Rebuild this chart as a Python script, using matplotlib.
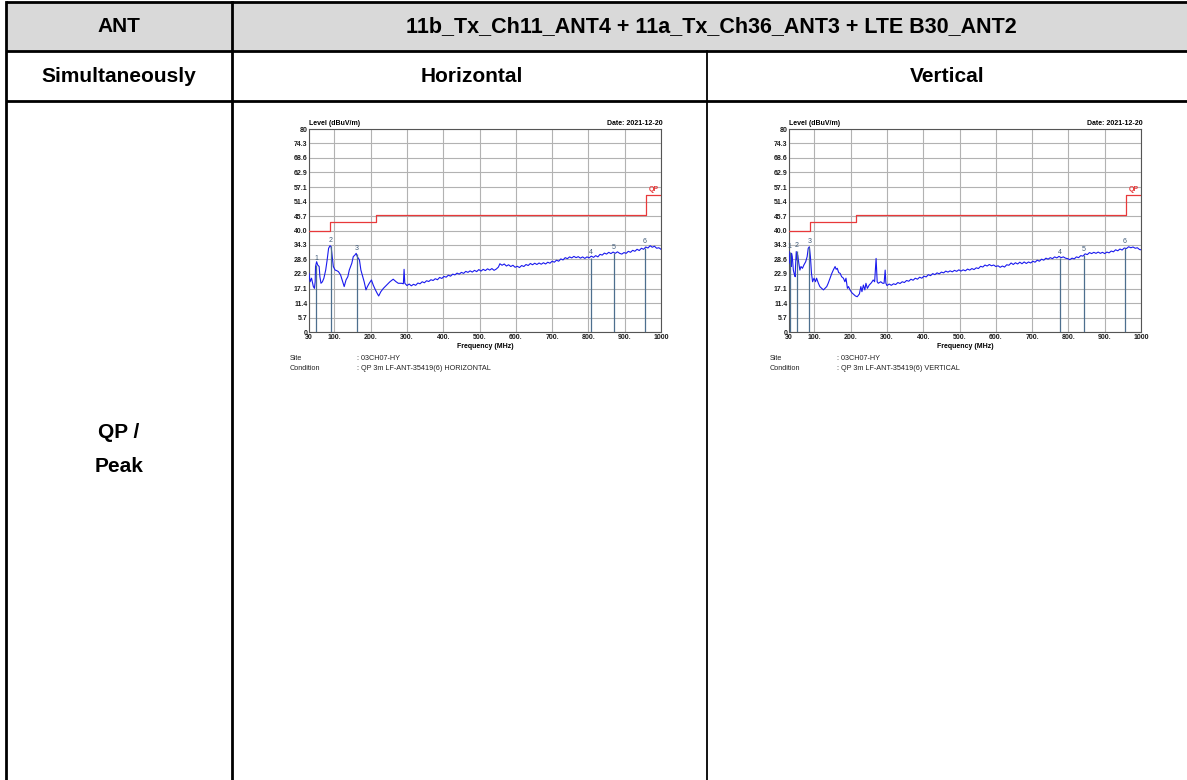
"""Radiated-emission test sheet: 30 MHz - 1 GHz scans, horizontal and vertical antenna, QP limit."""
import numpy as np
import matplotlib; matplotlib.use("Agg")
import matplotlib.pyplot as plt

plt.rcParams.update({"font.family": ["Liberation Sans", "DejaVu Sans"]})

# ---- scan data (MHz, dBuV/m) ----
h_freq = [30, 33, 37, 40, 42, 45, 47, 48, 51, 54, 58, 60, 63, 67, 71, 76, 80, 84, 88, 91, 93, 97, 102, 106,
          111, 117, 123, 127, 132, 137, 141, 148, 152, 157, 160, 163, 169, 173, 178, 182, 187, 191, 196, 202,
          207, 213, 218, 222, 228, 235, 244, 253, 262, 270, 276, 285, 290, 292, 294,
          300, 306, 312, 318, 324, 330, 336, 342, 348, 354, 360, 366, 372, 378, 384, 390, 396, 402, 408, 414,
          420, 426, 432, 438, 444, 450, 456, 462, 468, 474, 480, 486, 492, 498, 504, 510, 516, 522, 528, 534,
          540, 546, 552, 556, 562, 568, 574, 580, 586, 592, 598, 604, 610, 616, 622, 628, 634, 640, 646, 652,
          658, 664, 670, 676, 682, 688, 694, 700, 706, 712, 718, 724, 730, 736, 742, 748, 754, 760, 766, 772,
          778, 784, 790, 796, 802, 808, 814, 820, 826, 832, 838, 844, 850, 856, 862, 868, 874, 880, 886, 892,
          898, 904, 910, 916, 922, 928, 934, 940, 946, 952, 958, 964, 970, 976, 982, 988, 994, 1000]
h_level = [23.1, 19.8, 21.2, 19.2, 17.9, 17.2, 19.8, 25.8, 27.7, 26.4, 25.8, 21.8, 19.2, 19.8, 21.2, 24.4, 28.4,
           33.0, 34.0, 33.6, 31.0, 25.8, 24.4, 24.2, 23.8, 22.5, 19.8, 17.9, 20.5, 21.8, 24.4, 27.1, 29.7, 30.4,
           31.0, 29.7, 28.4, 24.4, 21.8, 19.8, 16.6, 17.9, 19.2, 20.5, 18.5, 16.6, 15.2, 14.2, 15.9, 17.2, 18.5,
           19.8, 20.8, 19.8, 19.2, 19.2, 19.0, 24.7, 19.2,
           18.3, 18.9, 18.2, 18.8, 18.4, 19.3, 19.0, 19.8, 19.4, 20.2, 19.9, 20.6, 20.3, 21.0, 20.6, 21.5, 21.1,
           21.9, 21.6, 22.4, 22.0, 22.8, 22.5, 23.2, 22.8, 23.5, 23.1, 23.9, 23.5, 24.1, 23.6, 24.3, 23.8, 24.6,
           24.0, 24.7, 24.2, 24.9, 24.4, 25.0, 24.3, 24.8, 25.6, 26.9, 26.3, 26.8, 26.0, 26.5, 25.8, 26.3, 25.5,
           25.9, 25.4, 26.2, 25.8, 26.6, 26.2, 27.0, 26.5, 27.1, 26.6, 27.2, 26.7, 27.3, 26.8, 27.5, 27.1, 27.9,
           27.5, 28.3, 27.9, 28.8, 28.4, 29.3, 28.9, 29.6, 29.2, 29.8, 29.3, 29.7, 29.1, 29.6, 29.0, 29.6, 29.2,
           29.9, 29.4, 30.1, 29.6, 30.6, 30.3, 31.1, 30.7, 31.4, 30.9, 31.5, 31.0, 31.6, 31.0, 30.7, 31.3, 31.0,
           31.8, 31.4, 32.2, 31.8, 32.6, 32.1, 33.0, 32.6, 33.5, 33.1, 34.0, 33.4, 33.8, 33.0, 33.2, 32.6]

v_freq = [30, 32, 34, 36, 37, 39, 42, 45, 47, 48, 50, 52, 54, 57, 60, 63, 67, 71, 76, 80, 83, 86, 89, 92, 95, 99,
          103, 106, 111, 115, 120, 125, 129, 134, 138, 143, 148, 152, 157, 160, 163, 167, 171, 175, 180, 184, 187,
          191, 194, 198, 203, 207, 213, 218, 224, 228, 231, 235, 239, 242, 246, 251, 257, 262, 266, 270, 273, 276,
          283, 288, 292, 295, 297,
          300, 306, 312, 318, 324, 330, 336, 342, 348, 354, 360, 366, 372, 378, 384, 390, 396, 402, 408, 414,
          420, 426, 432, 438, 444, 450, 456, 462, 468, 474, 480, 486, 492, 498, 504, 510, 516, 522, 528, 534,
          540, 546, 552, 558, 564, 570, 576, 582, 588, 594, 600, 606, 612, 618, 624, 630, 636, 642, 648, 654,
          660, 666, 672, 678, 684, 690, 696, 702, 708, 714, 720, 726, 732, 738, 744, 750, 756, 762, 768, 774,
          780, 786, 792, 798, 804, 810, 816, 822, 828, 834, 840, 846, 852, 858, 864, 870, 876, 882, 888, 894,
          900, 906, 912, 918, 924, 930, 936, 942, 948, 954, 960, 966, 972, 978, 984, 990, 996, 1000]
v_level = [31.7, 27.1, 31.0, 25.8, 31.0, 29.7, 24.4, 22.5, 21.8, 25.8, 31.7, 28.4, 30.4, 27.1, 24.4, 25.8, 25.1,
           26.4, 27.7, 29.7, 33.0, 33.6, 29.7, 23.1, 19.8, 21.2, 19.8, 21.2, 19.2, 17.9, 17.2, 16.6, 17.2, 17.9,
           19.2, 21.2, 23.1, 24.4, 25.8, 24.7, 25.1, 23.4, 23.1, 21.8, 21.2, 19.8, 21.2, 17.2, 17.9, 16.6, 15.5,
           15.0, 14.2, 13.9, 15.0, 17.9, 15.9, 18.5, 16.6, 19.2, 17.2, 18.5, 19.4, 20.5, 19.8, 29.0, 19.8, 19.2,
           19.8, 19.2, 19.2, 24.4, 19.2,
           18.3, 18.9, 18.4, 19.0, 18.7, 19.5, 19.1, 19.8, 19.5, 20.3, 20.0, 20.8, 20.4, 21.2, 20.8, 21.6, 21.2,
           22.0, 21.7, 22.6, 22.2, 23.0, 22.6, 23.3, 22.9, 23.6, 23.3, 24.0, 23.6, 24.1, 23.7, 24.3, 23.9, 24.5,
           24.0, 24.5, 24.1, 24.8, 24.4, 25.0, 24.6, 25.3, 25.0, 25.9, 25.6, 26.4, 26.0, 26.6, 26.1, 26.4, 25.8,
           26.1, 25.5, 26.0, 25.6, 26.5, 26.3, 27.2, 26.6, 27.3, 26.8, 27.5, 26.9, 27.6, 27.0, 27.6, 27.2, 27.9,
           27.5, 28.3, 27.9, 28.7, 28.3, 29.1, 28.7, 29.3, 28.9, 29.6, 29.2, 29.8, 29.3, 29.6, 29.1, 28.9, 28.5,
           29.1, 28.8, 29.6, 29.3, 30.1, 29.9, 30.8, 30.5, 31.3, 30.9, 31.4, 31.0, 31.5, 31.0, 31.4, 30.9, 31.5,
           31.2, 31.9, 31.6, 32.4, 32.0, 32.7, 32.3, 33.1, 32.9, 33.6, 33.2, 33.5, 33.0, 33.2, 32.5, 32.4]

# marker frequencies / levels
h_mk_freq = [49.5, 90.5, 161, 806, 870, 955]
h_mk_level = [26.6, 33.8, 30.6, 29.3, 31.3, 33.3]
v_mk_freq = [32, 51, 86, 776, 842, 956]
v_mk_level = [31.6, 31.8, 33.6, 29.3, 30.2, 33.3]

# QP limit (step edges)
qp_freq = [30, 88, 88, 216, 216, 960, 960, 1000]
qp_level = [40, 40, 43.5, 43.5, 46, 46, 54, 54]

yticks = [0, 5.7, 11.4, 17.1, 22.9, 28.6, 34.3, 40.0, 45.7, 51.4, 57.1, 62.9, 68.6, 74.3, 80]
ylabels = ["0", "5.7", "11.4", "17.1", "22.9", "28.6", "34.3", "40.0", "45.7", "51.4", "57.1", "62.9",
           "68.6", "74.3", "80"]
xticks = [30, 100, 200, 300, 400, 500, 600, 700, 800, 900, 1000]
xlabels = ["30", "100.", "200.", "300.", "400.", "500.", "600.", "700.", "800.", "900.", "1000"]

W, H = 1187, 780
TRACE, QP_C, MK_C, GRID = "#1a1aee", "#e8393a", "#4d6f8e", "#b2b2b2"

fig = plt.figure(figsize=(W / 100, H / 100), dpi=100)

# ---- table frame (pixel coordinates) ----
tab = fig.add_axes([0, 0, 1, 1]); tab.set_xlim(0, W); tab.set_ylim(H, 0); tab.axis("off")
tab.fill_between([6, W], 2, 51, color="#d9d9d9", lw=0)
for y in (2, 51, 101):
    tab.plot([6, W], [y, y], color="black", lw=2.0, solid_capstyle="butt")
tab.plot([6, 6], [2, H], color="black", lw=2.0)
tab.plot([232, 232], [2, H], color="black", lw=2.0)
tab.plot([707, 707], [51, H], color="black", lw=1.3)
hdr = dict(ha="center", va="center", fontsize=15, fontweight="bold", color="black")
tab.text(119, 27, "ANT", **hdr)
tab.text(711, 27, "11b_Tx_Ch11_ANT4 + 11a_Tx_Ch36_ANT3 + LTE B30_ANT2", **dict(hdr, fontsize=15.5))
tab.text(119, 77, "Simultaneously", **hdr)
tab.text(472, 77, "Horizontal", **hdr)
tab.text(947, 77, "Vertical", **hdr)
tab.text(119, 433, "QP /", **hdr)
tab.text(119, 467, "Peak", **hdr)


def scan(x0, freq, level, mk_f, mk_l, pol):
    # axes box in pixels: left x0, top 129, width 352, height 203
    ax = fig.add_axes([x0 / W, 1 - 332 / H, 352 / W, 203 / H])
    ax.set_xlim(30, 1000); ax.set_ylim(0, 80)
    ax.set_xticks(xticks); ax.set_yticks(yticks)
    ax.set_xticklabels(xlabels, fontsize=5, fontweight="bold", color="#1a1a1a")
    ax.set_yticklabels(ylabels, fontsize=5, fontweight="bold", color="#1a1a1a")
    ax.tick_params(length=0, pad=1.2)
    ax.grid(True, color=GRID, lw=0.8)
    for s in ax.spines.values():
        s.set_color("#555"); s.set_linewidth(0.8)
    ax.plot(qp_freq, qp_level, color=QP_C, lw=0.9, zorder=3)
    ax.text(994, 54.8, "QP", color=QP_C, fontsize=5, fontweight="bold", ha="right", va="bottom")
    ax.plot(freq, level, color=TRACE, lw=0.8, zorder=4)
    for i, (f, l) in enumerate(zip(mk_f, mk_l)):
        ax.vlines(f, 0, l, color=MK_C, lw=0.9, zorder=5)
        ax.text(f, l + 0.8, str(i + 1), color="#3f5a78", fontsize=5, ha="center", va="bottom", zorder=6)
    ax.set_xlabel("Frequency (MHz)", fontsize=5, fontweight="bold", labelpad=1.5)
    ax.text(0, 1.01, "Level (dBuV/m)", transform=ax.transAxes, fontsize=5, fontweight="bold",
            ha="left", va="bottom")
    ax.text(1.005, 1.01, "Date: 2021-12-20", transform=ax.transAxes, fontsize=5, fontweight="bold",
            ha="right", va="bottom")
    foot = dict(fontsize=5.2, ha="left", va="center", color="#222")
    tab.text(x0 - 19, 359, "Site", **foot)
    tab.text(x0 + 48, 359, ": 03CH07-HY", **foot)
    tab.text(x0 - 19, 369, "Condition", **foot)
    tab.text(x0 + 48, 369, ": QP 3m LF-ANT-35419(6) " + pol, **foot)


scan(309, h_freq, h_level, h_mk_freq, h_mk_level, "HORIZONTAL")
scan(789, v_freq, v_level, v_mk_freq, v_mk_level, "VERTICAL")

fig.savefig("out.png", dpi=100, facecolor="white")
